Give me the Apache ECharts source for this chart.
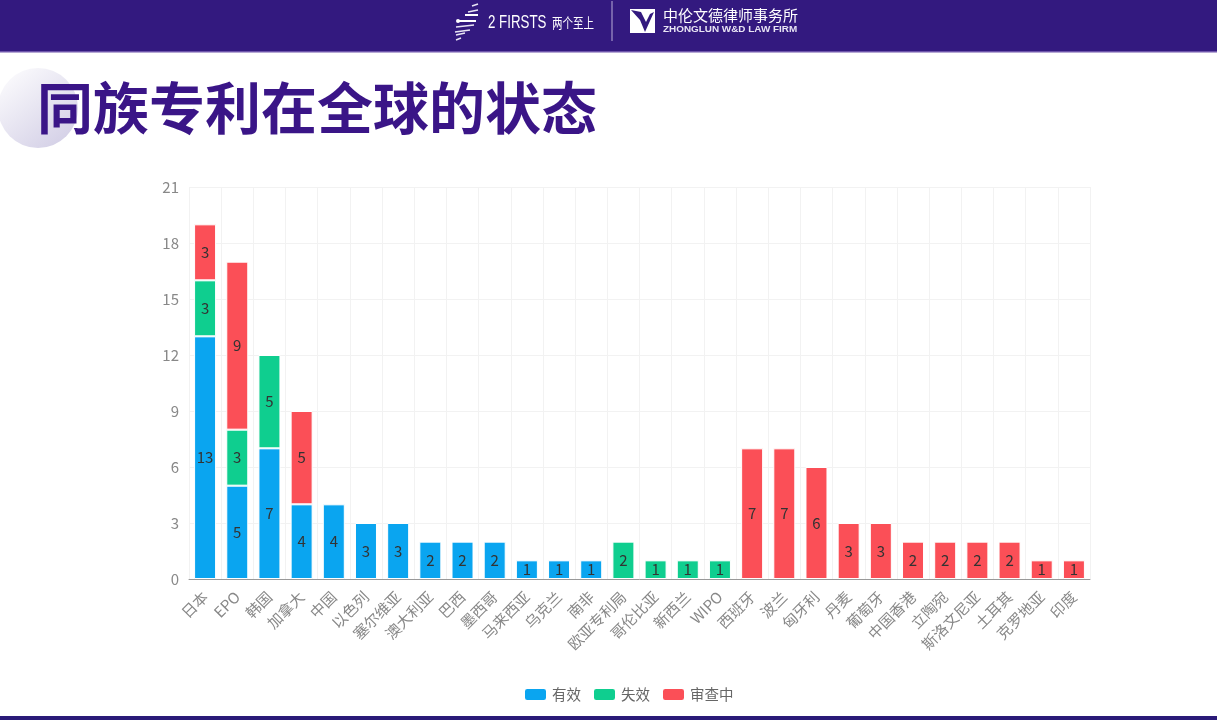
<!DOCTYPE html>
<html>
<head>
    <meta charset="utf-8">
    <title>同族专利在全球的状态</title>
    <script src="https://cdn.jsdelivr.net/npm/echarts@6/dist/echarts.min.js"></script>
    <style>
        html, body { margin: 0; padding: 0; background: #fff; }
        #main { width: 1217px; height: 720px; }
    </style>
</head>
<body>
    <div id="main"></div>
    <script type="text/javascript">
        var categories = ['日本','EPO','韩国','加拿大','中国','以色列','塞尔维亚','澳大利亚','巴西','墨西哥','马来西亚','乌克兰','南非','欧亚专利局','哥伦比亚','新西兰','WIPO','西班牙','波兰','匈牙利','丹麦','葡萄牙','中国香港','立陶宛','斯洛文尼亚','土耳其','克罗地亚','印度'];
        var valid = [13,5,7,4,4,3,3,2,2,2,1,1,1,null,null,null,null,null,null,null,null,null,null,null,null,null,null,null];
        var lapsed = [3,3,5,null,null,null,null,null,null,null,null,null,null,2,1,1,1,null,null,null,null,null,null,null,null,null,null,null];
        var pending = [3,9,null,5,null,null,null,null,null,null,null,null,null,null,null,null,null,7,7,6,3,3,2,2,2,2,1,1];
        var yTicks = { min: 0, max: 21, interval: 3 };

        var FONT = '"Noto Sans CJK SC", "Noto Sans", sans-serif';
        var PURPLE = '#33197f';

        function makeSeries(name, data, color) {
            return {
                name: name,
                type: 'bar',
                stack: 'total',
                data: data,
                barWidth: 22,
                itemStyle: { color: color, borderColor: '#fff', borderWidth: 1 },
                label: { show: true, position: 'inside', color: '#333', fontSize: 15, fontFamily: FONT }
            };
        }

        // 顶部 logo 和标题
        var headerGraphic = [
            { type: 'rect', shape: { x: 0, y: 0, width: 1217, height: 51 }, style: { fill: PURPLE } },
            { type: 'rect', shape: { x: 0, y: 51, width: 1217, height: 1.5 }, style: { fill: '#6e55ab' } },
            { type: 'rect', shape: { x: 0, y: 716, width: 1217, height: 4 }, style: { fill: '#2a1a78' } },
            { type: 'circle', shape: { cx: 38, cy: 108, r: 40 }, style: {
                fill: { type: 'linear', x: 0, y: 0, x2: 0.8, y2: 1, colorStops: [
                    { offset: 0, color: '#ffffff' }, { offset: 1, color: '#d3cfe6' }
                ] }
            } },
            { type: 'text', style: { x: 37, y: 108, text: '同族专利在全球的状态', fill: '#3a1587',
                font: 'bold 56px ' + FONT, textVerticalAlign: 'middle' } },
            // 2FIRSTS 标志的线条
            { type: 'line', shape: { x1: 478, y1: 4, x2: 472, y2: 6 }, style: { stroke: '#e8e4f4', lineWidth: 1.5 } },
            { type: 'line', shape: { x1: 478, y1: 10, x2: 468, y2: 12 }, style: { stroke: '#e8e4f4', lineWidth: 1.5 } },
            { type: 'line', shape: { x1: 478, y1: 15, x2: 465, y2: 15 }, style: { stroke: '#fff', lineWidth: 2 } },
            { type: 'line', shape: { x1: 476, y1: 21, x2: 457, y2: 21 }, style: { stroke: '#fff', lineWidth: 2 } },
            { type: 'circle', shape: { cx: 458, cy: 21, r: 2 }, style: { fill: '#fff' } },
            { type: 'line', shape: { x1: 474, y1: 25, x2: 456, y2: 27 }, style: { stroke: '#e8e4f4', lineWidth: 1.5 } },
            { type: 'line', shape: { x1: 470, y1: 30, x2: 455, y2: 32 }, style: { stroke: '#e8e4f4', lineWidth: 1.5 } },
            { type: 'line', shape: { x1: 465, y1: 33, x2: 456, y2: 35 }, style: { stroke: '#e8e4f4', lineWidth: 1.5 } },
            { type: 'line', shape: { x1: 461, y1: 38, x2: 456, y2: 40 }, style: { stroke: '#e8e4f4', lineWidth: 1.5 } },
            { type: 'text', x: 488, y: 23, scaleX: 0.7, style: { x: 0, y: 0, text: '2 FIRSTS', fill: '#fff', font: '19px "Liberation Sans", sans-serif', textVerticalAlign: 'middle' } },
            { type: 'text', x: 552, y: 23, scaleX: 0.75, style: { x: 0, y: 0, text: '两个至上', fill: '#fff', font: '14px ' + FONT, textVerticalAlign: 'middle' } },
            { type: 'rect', shape: { x: 611.5, y: 1, width: 1, height: 40 }, style: { fill: '#b9aed8' } },
            // 中伦标志
            { type: 'rect', shape: { x: 630, y: 9, width: 25, height: 24 }, style: { fill: '#fff' } },
            { type: 'polygon', shape: { points: [[631, 10], [641, 12], [646, 22], [650, 14], [654, 12], [645, 32], [640, 20]] }, style: { fill: PURPLE } },
            { type: 'text', style: { x: 663, y: 15, text: '中伦文德律师事务所', fill: '#fff', font: '15px ' + FONT, textVerticalAlign: 'middle' } },
            { type: 'text', x: 663, y: 30, scaleX: 1.165, style: { x: 0, y: 0, text: 'ZHONGLUN W&D LAW FIRM', fill: '#e8e4f4', font: 'bold 8.5px "Liberation Sans", sans-serif', textVerticalAlign: 'middle' } }
        ];

        var chart = echarts.init(document.getElementById('main'));
        chart.setOption({
            animation: false,
            backgroundColor: '#fff',
            textStyle: { fontFamily: FONT },
            graphic: headerGraphic,
            legend: {
                top: 682,
                left: 518,
                itemWidth: 23,
                itemHeight: 13,
                itemGap: 11,
                icon: 'roundRect',
                textStyle: { color: '#666', fontSize: 14.5, fontFamily: FONT },
                data: ['有效', '失效', '审查中']
            },
            grid: { left: 189, right: 127, top: 187, bottom: 141, containLabel: false },
            xAxis: {
                type: 'category',
                data: categories,
                axisTick: { show: false },
                axisLine: { lineStyle: { color: '#999' } },
                splitLine: { show: true, lineStyle: { color: '#f2f2f2' } },
                axisLabel: { rotate: 45, interval: 0, color: '#888', fontSize: 15, margin: 15, fontFamily: FONT }
            },
            yAxis: {
                type: 'value',
                min: yTicks.min,
                max: yTicks.max,
                interval: yTicks.interval,
                axisLine: { show: false },
                axisTick: { show: false },
                splitLine: { lineStyle: { color: '#f2f2f2' } },
                axisLabel: { color: '#888', fontSize: 15, margin: 10, fontFamily: FONT }
            },
            series: [
                makeSeries('有效', valid, '#0aa5f0'),
                makeSeries('失效', lapsed, '#0fce8f'),
                makeSeries('审查中', pending, '#fb4f57')
            ]
        });
    </script>
</body>
</html>
